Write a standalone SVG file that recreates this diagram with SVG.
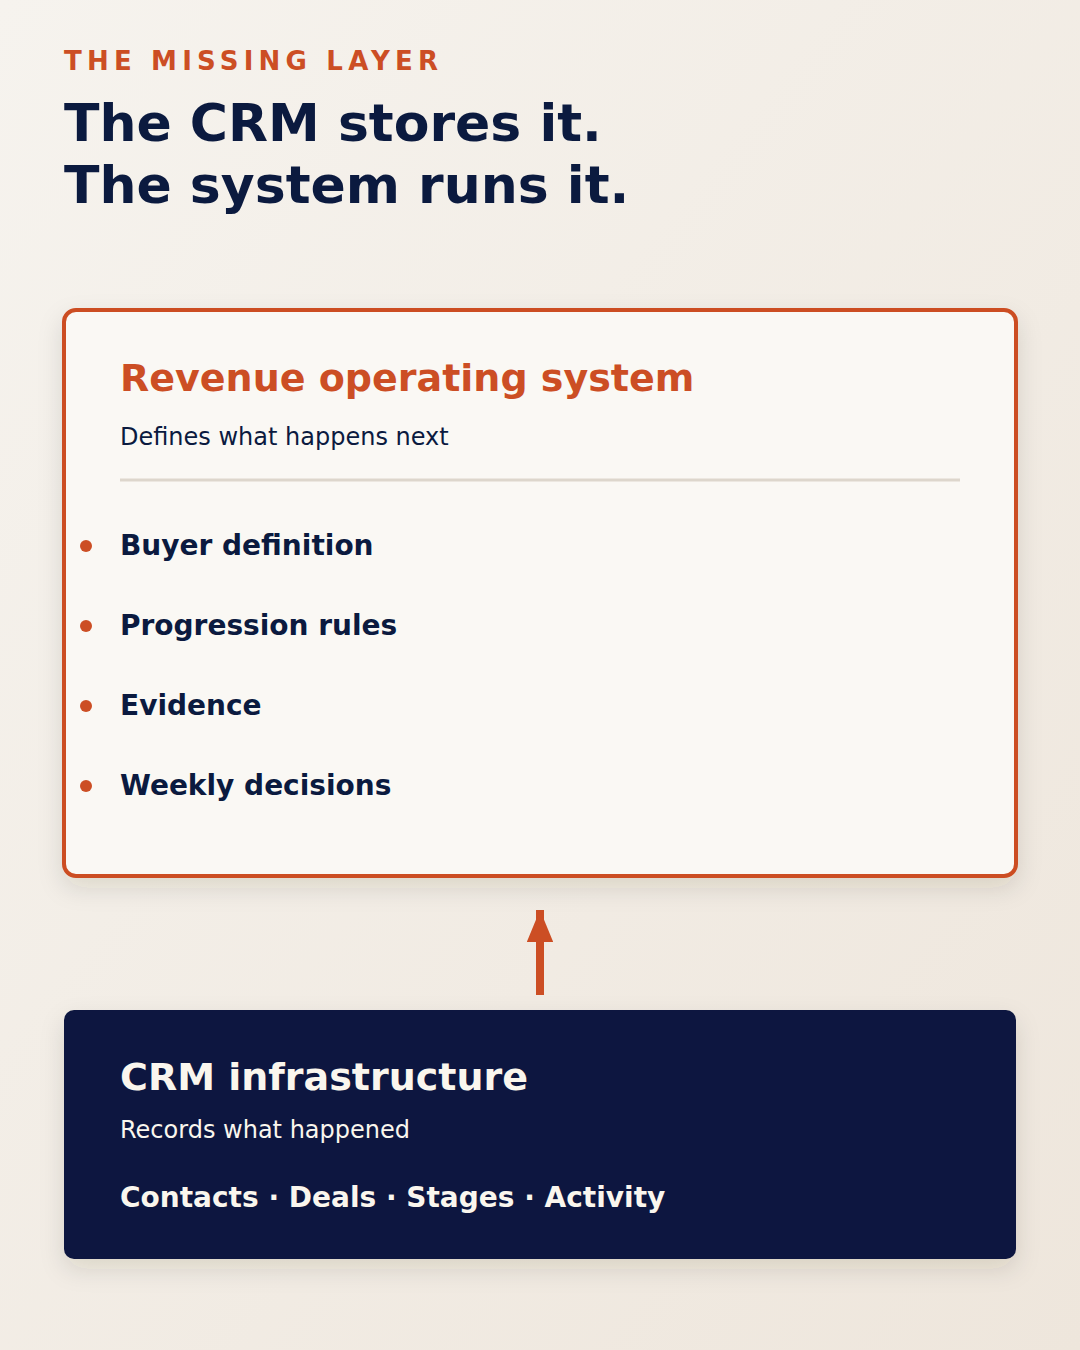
<svg xmlns="http://www.w3.org/2000/svg" width="1080" height="1350" viewBox="0 0 1080 1350">
  <defs>
    <linearGradient id="bg" x1="0" y1="0" x2="1" y2="1">
      <stop offset="0" stop-color="#F6F3EE"/>
      <stop offset="1" stop-color="#EEE6DC"/>
    </linearGradient>
    <filter id="shadow" x="-10%" y="-10%" width="120%" height="130%">
      <feDropShadow dx="0" dy="10" stdDeviation="12" flood-color="#3A2A1A" flood-opacity="0.12"/>
    </filter>
    <marker id="arrow" viewBox="0 0 10 10" refX="10" refY="5" markerWidth="4" markerHeight="3.3" orient="auto" markerUnits="strokeWidth" preserveAspectRatio="none">
      <path d="M0,0 L10,5 L0,10 Z" fill="#CC4E24"/>
    </marker>
    <style>
      .t { font-family: "DejaVu Sans", "Liberation Sans", sans-serif; }
      .b { font-weight: bold; }
      .navy { fill: #0B1A3F; }
      .rust { fill: #CC4E24; }
      .light { fill: #FAF6EE; }
      .item { font-size: 28px; font-weight: bold; fill: #0B1A3F; }
    </style>
  </defs>
  <rect width="1080" height="1350" fill="url(#bg)"/>

  <g id="header">
    <text class="t b rust" x="64" y="70" font-size="26" letter-spacing="5.2">THE MISSING LAYER</text>
    <text class="t b navy" x="64" y="141" font-size="52">The CRM stores it.</text>
    <text class="t b navy" x="64" y="203" font-size="52">The system runs it.</text>
  </g>

  <g id="connectors">
    <line x1="540" y1="995" x2="540" y2="910" stroke="#CC4E24" stroke-width="8" marker-end="url(#arrow)"/>
  </g>

  <g id="revenue-os">
    <rect x="64" y="310" width="952" height="566" rx="12" fill="#FAF8F4" stroke="#CC4E24" stroke-width="4" filter="url(#shadow)"/>
    <text class="t b rust" x="120" y="391" font-size="38">Revenue operating system</text>
    <text class="t navy" x="120" y="445" font-size="24">Defines what happens next</text>
    <line x1="120" y1="480" x2="960" y2="480" stroke="#DDD6CC" stroke-width="3"/>
    <circle cx="86" cy="546" r="6" class="rust"/>
    <text class="t item" x="120" y="555">Buyer definition</text>
    <circle cx="86" cy="626" r="6" class="rust"/>
    <text class="t item" x="120" y="635">Progression rules</text>
    <circle cx="86" cy="706" r="6" class="rust"/>
    <text class="t item" x="120" y="715">Evidence</text>
    <circle cx="86" cy="786" r="6" class="rust"/>
    <text class="t item" x="120" y="795">Weekly decisions</text>
  </g>

  <g id="crm-infrastructure">
    <rect x="64" y="1010" width="952" height="249" rx="10" fill="#0E173F" filter="url(#shadow)"/>
    <text class="t b light" x="120" y="1090" font-size="38">CRM infrastructure</text>
    <text class="t light" x="120" y="1138" font-size="24">Records what happened</text>
    <text class="t b light" x="120" y="1207" font-size="28">Contacts · Deals · Stages · Activity</text>
  </g>
</svg>
